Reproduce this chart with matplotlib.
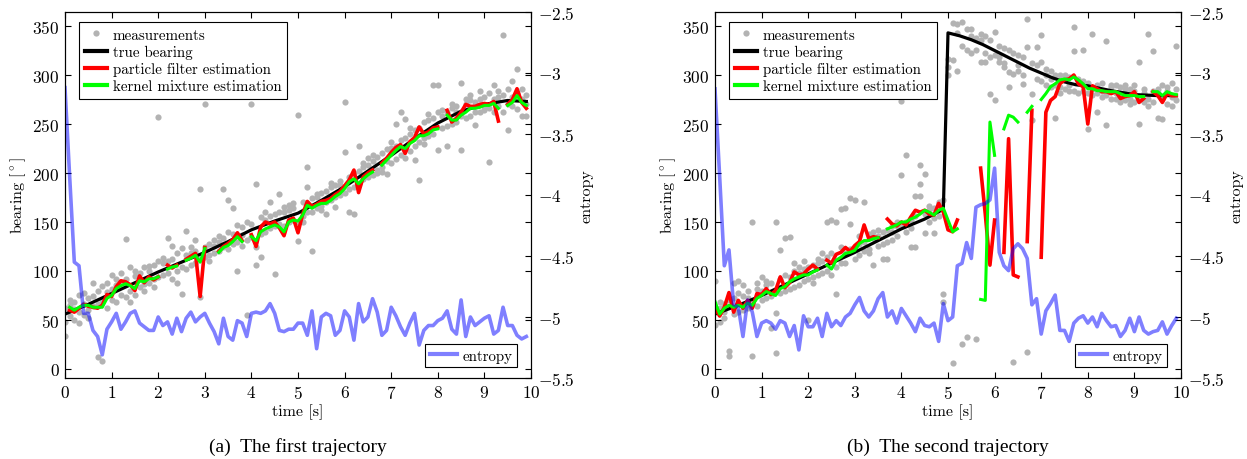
import numpy as np
import matplotlib
matplotlib.use('Agg')
import matplotlib.pyplot as plt
import matplotlib.ticker as ticker
from matplotlib.lines import Line2D

plt.rcParams['mathtext.fontset'] = 'cm'
plt.rcParams['axes.formatter.use_mathtext'] = True
plt.rcParams['font.family'] = 'cmr10'

nan = np.nan

# time grid of the filters (0.1 s steps)
t = np.round(np.arange(100) * 0.1, 1)

# ---------------- trajectory (a) ----------------
true_a_t = [0, 0.5, 1, 1.5, 2, 2.5, 3, 3.5, 4, 4.5, 5, 5.5, 6, 6.5, 7, 7.5, 8, 8.5, 9, 9.5, 9.9]
true_a = [56, 66, 77, 88, 99, 109, 119, 130, 142, 151, 159, 172, 186, 202, 218, 235, 251, 263, 270, 274, 273]

# measurements, three per time step
meas_a = [
    [62, 48, 34], [70, 54, 65], [50, 68, 61], [47, 75, 58], [78, 55, 66],
    [60, 72, 52], [88, 64, 74], [12, 66, 80], [8, 85, 70], [88, 62, 79],
    [96, 70, 82], [92, 68, 86], [98, 75, 88], [133, 73, 92], [104, 80, 68],
    [95, 76, 100], [84, 98, 92], [80, 104, 87], [100, 88, 105], [92, 106, 84],
    [257, 110, 94], [96, 108, 113], [134, 98, 110], [126, 92, 112], [118, 100, 88],
    [123, 104, 77], [141, 116, 102], [118, 106, 124], [132, 108, 120], [184, 73, 112],
    [270, 124, 114], [128, 116, 110], [118, 132, 126], [130, 120, 136], [184, 124, 134],
    [172, 122, 140], [164, 128, 138], [147, 130, 100], [137, 145, 126], [150, 132, 55],
    [270, 148, 135], [189, 124, 106], [155, 138, 114], [152, 140, 160], [170, 144, 156],
    [97, 146, 158], [179, 148, 160], [165, 146, 160], [167, 150, 162], [169, 152, 164],
    [259, 150, 131], [150, 170, 156], [206, 186, 160], [120, 174, 160], [179, 164, 176],
    [180, 166, 162], [158, 182, 170], [186, 172, 190], [165, 188, 176], [192, 178, 188],
    [272, 221, 180], [160, 196, 184], [158, 200, 186], [228, 190, 202], [206, 194, 210],
    [215, 196, 208], [212, 198, 218], [203, 216, 200], [201, 220, 206], [199, 224, 212],
    [226, 210, 232], [250, 214, 228], [262, 218, 234], [215, 236, 255], [240, 222, 246],
    [213, 244, 228], [193, 246, 232], [230, 252, 236], [254, 238, 260], [290, 240, 256],
    [290, 223, 262], [246, 264, 258], [228, 262, 248], [266, 250, 270], [252, 268, 262],
    [292, 223, 258], [270, 256, 276], [258, 274, 280], [249, 272, 262], [276, 262, 284],
    [264, 278, 268], [211, 282, 266], [262, 276, 290], [268, 284, 278], [341, 262, 280],
    [244, 286, 270], [294, 268, 278], [306, 265, 282], [258, 276, 286], [258, 270, 280],
]

pf_a = [nan, 60, 58, 62, 66, 64, 63, 62, 65, 76,
        74, 84, 90, 89, 86, 80, 95, 88, 94, 91,
        94, nan, 106, 103, 106, nan, 112, 115, 118, 74,
        124, nan, nan, 120, 125, 128, 132, 139, 131, nan,
        137, 125, 145, 150, 148, 150, 144, 136, 152, 154,
        139, 158, 171, 166, 168, 171, 172, 174, 178, 181,
        187, 193, 203, 180, 196, 200, 203, nan, 210, 215,
        221, 226, 229, 220, 232, 236, 247, 240, 242, 246,
        247, nan, 264, 252, 256, 262, 270, 268, 268, 270,
        271, 270, 273, 253, nan, 270, 275, 286, 272, 266]

km_a = [nan, 63, 60, 63, 65, 65, 63, 63, 63, 72,
        75, 82, 85, 87, 85, 82, 90, 89, 92, 92,
        94, nan, 102, 104, 105, nan, 111, 113, 116, 109,
        123, nan, nan, 119, 124, 126, 130, 135, 130, nan,
        135, 131, 140, 143, 145, 147, 145, 140, 150, 152,
        151, 157, 167, 164, 167, 169, 169, 172, 176, 179,
        184, 191, 194, 189, 194, 198, 201, nan, 208, 213,
        218, 223, 227, 225, 230, 233, 238, 238, 240, 244,
        245, nan, 259, 254, 254, 259, 262, 266, 266, 267,
        269, 269, 271, 266, nan, 269, 272, 279, 272, 269]

ent_a = [-3.12, -3.85, -4.55, -4.58, -4.97, -4.97, -5.11, -5.16, -5.31, -5.10,
         -5.04, -4.97, -5.10, -5.04, -4.97, -4.95, -5.05, -5.08, -5.11, -5.11,
         -5.00, -5.07, -5.04, -5.14, -5.01, -5.12, -5.01, -4.96, -5.04, -5.00,
         -4.97, -5.05, -5.12, -5.22, -5.01, -5.16, -5.19, -5.03, -5.05, -5.16,
         -4.97, -4.96, -4.97, -4.95, -4.89, -4.97, -5.11, -5.12, -5.10, -5.10,
         -5.05, -5.05, -5.15, -4.95, -5.26, -5.00, -4.97, -4.99, -5.15, -5.11,
         -4.95, -5.00, -5.19, -4.89, -5.04, -5.00, -4.85, -4.96, -5.15, -5.11,
         -4.92, -4.99, -5.08, -5.15, -5.05, -4.97, -5.23, -5.11, -5.07, -5.07,
         -5.03, -5.01, -4.95, -5.10, -5.14, -4.86, -5.16, -5.00, -5.07, -5.04,
         -5.01, -4.99, -5.14, -5.11, -4.92, -5.07, -5.07, -5.15, -5.18, -5.16]

# ---------------- trajectory (b) ----------------
true_b_t = [0, 0.5, 1, 1.5, 2, 2.5, 3, 3.5, 4, 4.5, 4.9, 5.0, 5.25, 5.5, 5.75, 6, 6.25, 6.5,
            6.75, 7, 7.25, 7.5, 7.75, 8, 8.5, 9, 9.5, 9.9]
true_b = [56, 65, 75, 86, 97, 108, 119, 131, 143, 153, 163, 343, 340, 336, 331, 325, 319, 313,
          307, 302, 297, 293, 290, 289, 284, 280, 279, 279]

meas_b = [
    [90, 45, 60], [68, 48, 62], [52, 66, 58], [18, 13, 70], [88, 56, 72],
    [90, 58, 78], [86, 60, 74], [80, 62, 72], [13, 150, 66], [82, 64, 88],
    [94, 70, 80], [86, 90, 72], [42, 74, 88], [16, 150, 57], [121, 92, 78],
    [134, 80, 96], [135, 82, 94], [100, 84, 108], [98, 86, 104], [102, 90, 110],
    [50, 92, 104], [106, 94, 88], [112, 96, 108], [110, 98, 118], [150, 100, 114],
    [152, 96, 118], [150, 104, 77], [163, 108, 124], [164, 118, 108], [174, 148, 122],
    [172, 124, 112], [128, 116, 136], [170, 130, 120], [138, 122, 118], [106, 134, 140],
    [142, 126, 136], [112, 140, 128], [112, 142, 130], [146, 132, 140], [150, 136, 146],
    [273, 198, 148], [218, 150, 140], [124, 152, 144], [177, 156, 124], [208, 189, 177],
    [199, 139, 158], [162, 150, 166], [139, 164, 154], [168, 156, 170], [77, 68, 172],
    [316, 308, 300], [353, 6, 315], [352, 304, 343], [354, 26, 330], [33, 347, 326],
    [347, 322, 340], [31, 338, 326], [342, 313, 336], [313, 340, 322], [281, 336, 318],
    [275, 344, 320], [313, 330, 318], [312, 328, 308], [303, 288, 326], [7, 301, 322],
    [320, 304, 310], [291, 318, 300], [357, 17, 329], [281, 254, 312], [329, 296, 310],
    [341, 313, 294], [306, 290, 300], [288, 304, 296], [256, 300, 290], [288, 300, 282],
    [296, 286, 300], [284, 298, 290], [349, 325, 284], [296, 282, 292], [326, 284, 294],
    [245, 292, 282], [342, 286, 280], [262, 290, 282], [278, 292, 284], [335, 249, 280],
    [288, 276, 290], [282, 290, 276], [278, 288, 272], [286, 274, 290], [276, 286, 270],
    [284, 272, 290], [313, 250, 278], [286, 272, 282], [342, 276, 268], [325, 284, 272],
    [256, 282, 286], [255, 290, 276], [284, 270, 288], [278, 292, 268], [330, 286, 274],
]

pf_b = [62, 54, 63, 78, 58, 70, 62, 70, 62, 77,
        76, 82, 76, 80, 94, 83, 88, 99, 96, 97,
        102, 106, 102, nan, 111, 108, 117, 119, 124, 120,
        126, 130, 147, 133, 135, 134, nan, 153, 148, 146,
        150, 147, 155, 162, 160, 162, 158, 157, 169, 160,
        142, 140, 152, nan, nan, nan, nan, 205, 158, 106,
        152, nan, 119, 235, 96, 94, nan, 130, 264, nan,
        114, 262, 274, 278, 291, 295, 296, 300, 291, 288,
        250, 289, 286, 283, 283, 281, 283, 276, 278, 279,
        283, 272, 276, nan, 283, 279, 272, 281, 279, 279]

km_b = [69, 56, 62, 65, 63, 65, 63, 67, 65, 72,
        75, 79, 77, 75, 82, 84, 89, 92, 94, 96,
        96, 99, 101, nan, 106, 102, 111, 114, 118, 119,
        121, 128, 131, 131, 133, 134, nan, 143, 145, 147,
        150, 150, 153, 155, 158, 162, 160, 157, 162, 164,
        152, 140, 143, nan, nan, nan, nan, 71, 70, 252,
        218, nan, 245, 259, 257, 252, nan, 262, 268, nan,
        275, 281, 288, 291, 295, 296, 295, 298, 295, 291,
        286, 286, 284, 284, 283, 283, 283, 281, 279, 279,
        279, 278, 278, nan, 283, 283, 279, 283, 281, 280]

ent_b = [-3.13, -3.85, -4.58, -4.45, -4.90, -4.92, -5.16, -4.86, -4.96, -5.16,
         -5.05, -5.03, -5.05, -5.10, -5.03, -5.05, -5.16, -5.07, -5.27, -4.99,
         -5.08, -5.08, -5.01, -5.16, -4.97, -5.08, -5.03, -5.07, -5.00, -4.97,
         -4.90, -4.84, -4.95, -5.00, -4.95, -4.85, -4.80, -5.00, -4.95, -5.05,
         -4.93, -4.99, -5.05, -5.12, -5.01, -5.07, -5.08, -5.05, -5.20, -4.89,
         -5.03, -5.00, -4.58, -4.56, -4.39, -4.52, -4.10, -4.08, -4.07, -4.04,
         -3.78, -4.47, -4.58, -4.62, -4.44, -4.40, -4.44, -4.52, -4.90, -4.85,
         -5.14, -4.95, -4.89, -4.82, -5.11, -5.11, -5.20, -5.05, -5.01, -4.99,
         -5.05, -5.00, -5.08, -4.97, -5.03, -5.08, -5.07, -5.16, -5.11, -5.01,
         -5.12, -5.00, -5.11, -5.14, -5.12, -5.11, -5.04, -5.14, -5.07, -5.01]

captions = ['(a)  The first trajectory', '(b)  The second trajectory']

panels = [
    (true_a_t, true_a, meas_a, pf_a, km_a, ent_a),
    (true_b_t, true_b, meas_b, pf_b, km_b, ent_b),
]

fig = plt.figure(figsize=(12.47, 4.60), dpi=100)
fmt = ticker.FuncFormatter(lambda v, p: f'${v:g}$')
gray = '#b3b3b3'

for i, (tt, tb, meas, pf, km, ent) in enumerate(panels):
    left = (65 + i * 650) / 1247
    ax = fig.add_axes([left, 81 / 460, 466 / 1247, 366 / 460])
    m = np.array(meas)
    mt = np.repeat(t, m.shape[1])
    ax.scatter(mt, m.ravel(), s=20, color=gray, linewidths=0, zorder=1)
    ax.plot(tt, tb, color='black', lw=2.3, zorder=2)
    ax.plot(t, pf, color='red', lw=2.6, zorder=3)
    ax.plot(t, km, color='#00ff00', lw=2.2, zorder=4)
    ax.set_xlim(0, 10)
    ax.set_ylim(-9.2, 364.3)
    ax.xaxis.set_major_locator(ticker.MultipleLocator(1))
    ax.yaxis.set_major_locator(ticker.MultipleLocator(50))
    ax.xaxis.set_major_formatter(fmt)
    ax.yaxis.set_major_formatter(fmt)
    ax.set_xlabel('time [s]', fontsize=11.5, labelpad=2)
    ax.set_ylabel(r'bearing [$^\circ$]', fontsize=11.5, labelpad=3)

    ax2 = ax.twinx()
    ax2.plot(t, ent, color='blue', alpha=0.5, lw=2.6)
    ax2.set_ylim(-5.5, -2.5)
    ax2.yaxis.set_major_locator(ticker.MultipleLocator(0.5))
    ax2.yaxis.set_major_formatter(fmt)
    ax2.set_ylabel('entropy', fontsize=11.5, labelpad=4)

    ax.tick_params(direction='in', length=4, width=0.8, top=True, right=True,
                   labelsize=12.5, pad=4)
    ax2.tick_params(direction='in', length=4, width=0.8, labelsize=12.5, pad=5)
    for a in (ax, ax2):
        for s in a.spines.values():
            s.set_linewidth(0.8)

    handles = [
        Line2D([], [], ls='none', marker='o', ms=4.5, color=gray, mec='none'),
        Line2D([], [], color='black', lw=3),
        Line2D([], [], color='red', lw=3),
        Line2D([], [], color='#00ff00', lw=3),
    ]
    labels = ['measurements', 'true bearing', 'particle filter estimation',
              'kernel mixture estimation']
    leg1 = ax2.legend(handles, labels, loc='upper left', bbox_to_anchor=(0.030, 0.973),
                      borderaxespad=0, fancybox=False, edgecolor='black', framealpha=1,
                      fontsize=10.8, handlelength=1.5, handletextpad=0.35,
                      labelspacing=0.22, borderpad=0.4)
    leg1.get_frame().set_linewidth(0.8)
    ent_h = Line2D([], [], color='blue', alpha=0.5, lw=3)
    leg2 = ax2.legend([ent_h], ['entropy'], loc='lower right', bbox_to_anchor=(0.970, 0.030),
                      borderaxespad=0, fancybox=False, edgecolor='black', framealpha=1,
                      fontsize=10.8, handlelength=1.8, handletextpad=0.4, borderpad=0.3)
    leg2.get_frame().set_linewidth(0.8)
    ax2.add_artist(leg1)

    fig.text((298 + i * 650) / 1247, 1 - 447 / 460, captions[i], ha='center', va='center',
             fontsize=14, family='Liberation Serif')

fig.savefig('out.png', dpi=100)
